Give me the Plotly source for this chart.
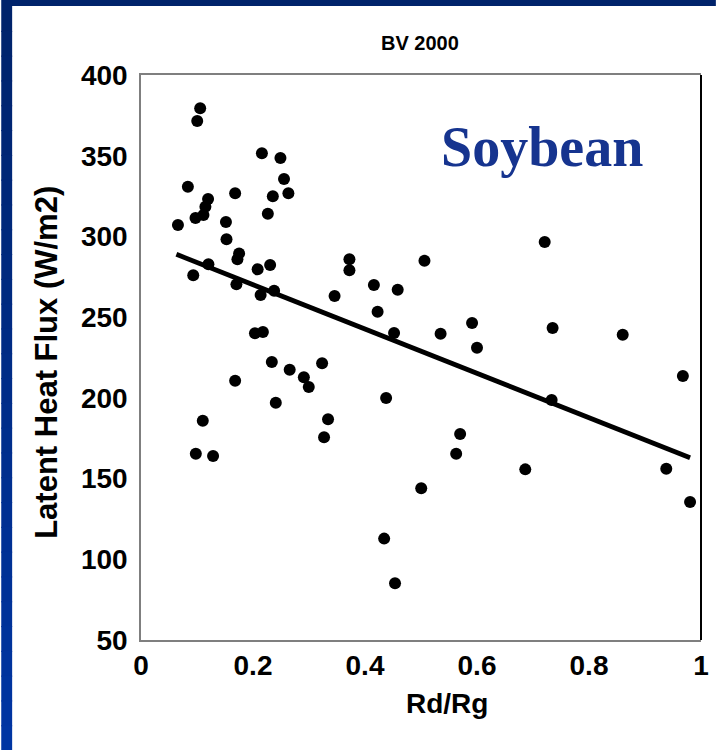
import plotly.graph_objects as go

# Ratio of diffuse to global radiation and latent heat flux, soybean, BV 2000
rd_rg = [0.066, 0.0837, 0.1057, 0.1004, 0.0973, 0.1115, 0.115, 0.1198, 0.0933, 0.0979,
         0.1103, 0.1287, 0.1204, 0.1517, 0.1527, 0.1681, 0.1704, 0.1722, 0.1752, 0.1681,
         0.2159, 0.2265, 0.2354, 0.249, 0.2554, 0.2632, 0.2083, 0.2306, 0.2136, 0.2377,
         0.2035, 0.2177, 0.2336, 0.2407, 0.2655, 0.2908, 0.2996, 0.3234, 0.3269, 0.334,
         0.3457, 0.3722, 0.3722, 0.4159, 0.4225, 0.4584, 0.4519, 0.4377, 0.5062, 0.535,
         0.4342, 0.4536, 0.5004, 0.5628, 0.5699, 0.5912, 0.6, 0.7209, 0.735, 0.7333,
         0.6862, 0.8602, 0.9676, 0.938, 0.9805]
latent_heat = [307.1, 330.8, 379.4, 371.5, 311.4, 313.3, 318.4, 323.2, 275.9, 165.4,
               185.8, 164.0, 282.7, 308.9, 298.2, 326.7, 270.3, 285.8, 289.5, 210.6,
               351.5, 314.1, 324.9, 348.6, 335.6, 326.7, 279.6, 282.3, 263.7, 266.4,
               240.0, 240.8, 222.2, 197.0, 217.4, 212.7, 206.7, 221.4, 175.6, 186.7,
               263.1, 285.8, 279.0, 269.9, 253.4, 267.0, 240.2, 199.9, 285.0, 239.7,
               112.8, 85.1, 144.0, 165.4, 177.6, 246.4, 231.1, 296.5, 243.3, 198.7,
               155.7, 239.1, 213.5, 156.1, 135.5]

# Linear trend line end points
trend_x = [0.0632, 0.9805]
trend_y = [288.9, 162.9]

x_ticks = [0, 0.2, 0.4, 0.6, 0.8, 1]
x_tick_text = ["0", "0.2", "0.4", "0.6", "0.8", "1"]
y_ticks = [50, 100, 150, 200, 250, 300, 350, 400]

SANS = "Liberation Sans"

fig = go.Figure()
fig.add_trace(go.Scatter(
    x=rd_rg, y=latent_heat, mode="markers",
    marker=dict(color="black", size=12, line=dict(width=0)),
    showlegend=False, cliponaxis=False,
))
fig.add_trace(go.Scatter(
    x=trend_x, y=trend_y, mode="lines",
    line=dict(color="black", width=4.8),
    showlegend=False,
))

W, H = 721, 750
L, R, T, B = 141, 15, 75, 110
pw, ph = W - L - R, H - T - B


def px_x(p):
    return (p - L) / pw


def px_y(p):
    return (H - B - p) / ph


shapes = []
# blue slide frame: top band and left band with a vertical gradient
shapes.append(dict(type="rect", xref="paper", yref="paper",
                   x0=px_x(0), x1=px_x(W), y0=px_y(6), y1=px_y(0),
                   fillcolor="#00236b", line=dict(width=0), layer="below"))
n = 30
c0 = (0x00, 0x23, 0x6b)
c1 = (0x00, 0x35, 0xa3)
for i in range(n):
    t = i / (n - 1)
    col = "rgb({},{},{})".format(*[round(a + (b - a) * t) for a, b in zip(c0, c1)])
    shapes.append(dict(type="rect", xref="paper", yref="paper",
                       x0=px_x(0), x1=px_x(11),
                       y0=px_y(6 + (i + 1) * (H - 6) / n) - 0.002,
                       y1=px_y(6 + i * (H - 6) / n),
                       fillcolor=col, line=dict(width=0), layer="below"))
# dark right edge of the plot box
shapes.append(dict(type="line", xref="paper", yref="paper",
                   x0=1, x1=1, y0=0, y1=1, line=dict(color="black", width=2)))


def label(text, x, y, size, family=SANS, color="black", angle=0):
    return dict(text=text, xref="paper", yref="paper", x=px_x(x), y=px_y(y),
                xanchor="center", yanchor="middle", textangle=angle, showarrow=False,
                font=dict(family=family, size=size, color=color, weight="bold"))


fig.update_layout(
    width=W, height=H,
    margin=dict(l=L, r=R, t=T, b=B),
    paper_bgcolor="white", plot_bgcolor="white",
    shapes=shapes,
    xaxis=dict(range=[0, 1], tickvals=x_ticks, ticktext=x_tick_text,
               showgrid=False, zeroline=False, showline=True, mirror=True,
               linecolor="#7f7f7f", linewidth=1.5, ticks="",
               tickfont=dict(family=SANS, size=28, color="black", weight="bold")),
    yaxis=dict(range=[50, 400], tickvals=y_ticks,
               showgrid=False, zeroline=False, showline=True, mirror=False,
               linecolor="#7f7f7f", linewidth=1.5, ticks="", ticklabelstandoff=6,
               tickfont=dict(family=SANS, size=28, color="black", weight="bold")),
    annotations=[
        label("BV 2000", 422, 43, 20),
        label("Soybean", 546, 147, 56, family="Liberation Serif", color="#16348f"),
        label("Latent Heat Flux (W/m2)", 45, 362, 31, angle=-90),
        label("Rd/Rg", 450, 703, 28),
    ],
)

fig.write_html("out.html")
